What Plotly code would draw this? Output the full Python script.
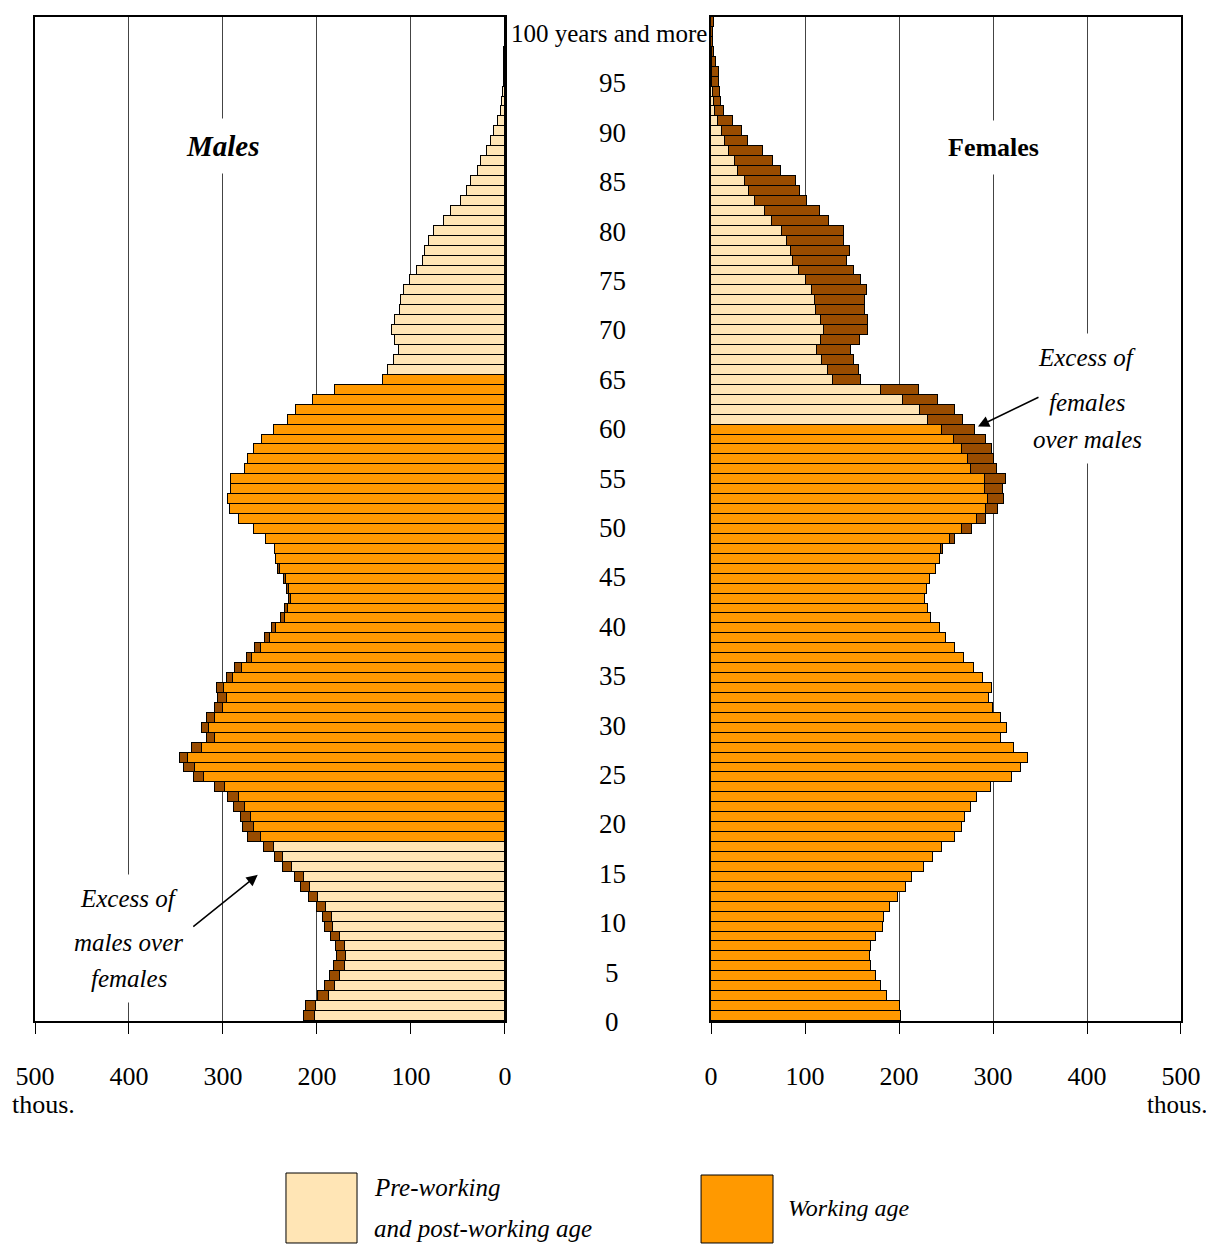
import plotly.graph_objects as go

# ---------------- data (thousands) ----------------
ages = list(range(101))

males = [214, 212, 199, 191, 186, 182, 179, 180, 185, 191,      # 0-9
         194, 200, 208, 217, 223, 236, 245, 256, 273, 279,      # 10-19
         281, 288, 295, 309, 331, 341, 346, 333, 317, 322,      # 20-29
         317, 309, 305, 306, 296, 287, 274, 266, 255, 248,      # 30-39
         238, 234, 230, 232, 235, 241, 244, 245, 254, 267,      # 40-49
         283, 293, 295, 291, 291, 277, 273, 267, 258, 246,      # 50-59
         231, 222, 204, 181, 130, 124, 118.5, 113, 117.5, 120,  # 60-69
         117, 112, 110.5, 107, 101, 94, 87, 85, 81, 76,         # 70-79
         65, 57.5, 47, 40, 36, 28.5, 25, 19, 14.5, 12,          # 80-89
         7.5, 4, 3, 2, 1.5, 1.2, 0.9, 0.6, 0.4, 0.3,            # 90-99
         0.4]                                                   # 100+

females = [202.5, 201.5, 187.5, 180.5, 176, 170.5, 169, 170.5, 176, 183,    # 0-9
           184.5, 190, 198.5, 207, 213.5, 226.5, 236, 245.5, 259.5, 267,    # 10-19
           270, 277, 283, 298, 320, 329.5, 337, 322.5, 309, 314.5,          # 20-29
           309, 300.5, 296, 299, 289.5, 280, 269, 260, 249.5, 244,          # 30-39
           234, 230.5, 228, 229.5, 233.5, 239, 244, 247, 260, 278,          # 40-49
           293, 305.5, 312, 311, 314, 304, 301, 298.5, 293, 281,            # 50-59
           268, 260, 242, 221, 160, 157, 152, 149, 159, 167,                # 60-69
           167, 164, 164, 166, 160, 152, 145, 148, 142, 141,                # 70-79
           125.5, 116, 102.5, 95, 90, 74.5, 66, 55, 39.7, 33,               # 80-89
           23, 13.8, 11, 9.6, 8.2, 8.2, 5.3, 3.3, 2.5, 2,                   # 90-99
           3.5]                                                             # 100+

male_working = (18, 64)
female_working = (0, 59)   # as drawn in the source chart

tick_vals = [0, 100, 200, 300, 400, 500]
tick_text = ["0", "100", "200", "300", "400", "500"]
unit_label = "thous."
age_label_vals = list(range(0, 100, 5))
top_label = "100 years and more"

legend_lines_light = ["Pre-working", "and post-working age"]
legend_lines_orange = ["Working age"]

# ---------------- styling ----------------
LIGHT = "#FFE5B5"
ORANGE = "#FF9900"
DARK = "#994C00"
FONT = "Liberation Serif"

common = [min(m, f) for m, f in zip(males, females)]
male_exc = [(m - f) if m > f else None for m, f in zip(males, females)]
female_exc = [(f - m) if f > m else None for m, f in zip(males, females)]
male_cols = [ORANGE if male_working[0] <= a <= male_working[1] else LIGHT for a in ages]
female_cols = [ORANGE if female_working[0] <= a <= female_working[1] else LIGHT for a in ages]

line = dict(color="black", width=1.5)

fig = go.Figure()
fig.add_trace(go.Bar(y=ages, x=common, orientation="h", xaxis="x", yaxis="y",
                     marker=dict(color=male_cols, line=line), hoverinfo="skip"))
fig.add_trace(go.Bar(y=ages, x=male_exc, orientation="h", xaxis="x", yaxis="y",
                     marker=dict(color=DARK, line=line), hoverinfo="skip"))
fig.add_trace(go.Bar(y=ages, x=common, orientation="h", xaxis="x2", yaxis="y2",
                     marker=dict(color=female_cols, line=line), hoverinfo="skip"))
fig.add_trace(go.Bar(y=ages, x=female_exc, orientation="h", xaxis="x2", yaxis="y2",
                     marker=dict(color=DARK, line=line), hoverinfo="skip"))

xcommon = dict(tickvals=tick_vals, ticktext=tick_text, ticks="outside", ticklen=11,
               tickcolor="black", tickwidth=1.2, showline=True, linecolor="black",
               linewidth=1.5, mirror=True, showgrid=True, gridcolor="#444444",
               gridwidth=1, zeroline=False, ticklabelstandoff=20, automargin=False,
               tickfont=dict(family=FONT, size=26, color="black"))
ycommon = dict(range=[-0.5, 100.5], showticklabels=False, ticks="", showgrid=False,
               zeroline=False, showline=True, linecolor="black", linewidth=1.5,
               mirror=True, automargin=False)

# page body has an 8px default margin, so the figure is 8px smaller than the window
fig.update_layout(
    width=1206, height=1237,
    margin=dict(l=27, r=33, t=9, b=224, autoexpand=False),
    paper_bgcolor="white", plot_bgcolor="white",
    barmode="stack", bargap=0, showlegend=False,
    font=dict(family=FONT, color="black"),
    xaxis=dict(domain=[0, 0.4101], range=[500, 0], anchor="y", **xcommon),
    yaxis=dict(domain=[0, 1], anchor="x", **ycommon),
    xaxis2=dict(domain=[0.5899, 1], range=[0, 500], anchor="y2", **xcommon),
    yaxis2=dict(domain=[0, 1], anchor="x2", **ycommon),
)

ann = []
# unit labels under the 500 ticks
ann.append(dict(xref="x", yref="paper", x=tick_vals[-1], y=-0.0836, xshift=8,
                xanchor="center", yanchor="middle",
                text=unit_label, showarrow=False, font=dict(size=26, family=FONT)))
ann.append(dict(xref="x2", yref="paper", x=tick_vals[-1], y=-0.0836, xshift=-4,
                xanchor="center", yanchor="middle",
                text=unit_label, showarrow=False, font=dict(size=25, family=FONT)))

# centre age labels
for a in age_label_vals:
    ann.append(dict(xref="paper", yref="y", x=0.5035, y=a, yshift=-(6 + 0.06 * a),
                    xanchor="center", yanchor="middle",
                    text=str(a), showarrow=False, font=dict(size=27, family=FONT)))
ann.append(dict(xref="paper", yref="y", x=0.5010, y=100, yshift=-12, text=top_label,
                xanchor="center", yanchor="middle",
                showarrow=False, font=dict(size=25, family=FONT)))

# panel titles
ann.append(dict(xref="x", yref="y", x=300, y=87.5, text="<b><i>Males</i></b>",
                showarrow=False, bgcolor="white", borderpad=11,
                font=dict(size=29, family=FONT)))
ann.append(dict(xref="x2", yref="y2", x=300, y=87.4, text="<b>Females</b>",
                showarrow=False, bgcolor="white", borderpad=12,
                font=dict(size=26, family=FONT)))

# excess notes
for txt, yy in [("Excess of", 11.87), ("males over", 7.44), ("females", 3.82)]:
    ann.append(dict(xref="x", yref="y", x=400, y=yy, text=f"<i>{txt}</i>", showarrow=False,
                    bgcolor="white", borderpad=10, font=dict(size=25, family=FONT)))
for txt, yy in [("Excess of", 66.2), ("females", 61.77), ("over males", 57.95)]:
    ann.append(dict(xref="x2", yref="y2", x=400, y=yy, text=f"<i>{txt}</i>", showarrow=False,
                    bgcolor="white", borderpad=10, font=dict(size=25, family=FONT)))

# arrows
ann.append(dict(xref="x", yref="y", x=263, y=14.2, ax=-66, ay=53, text="", showarrow=True,
                arrowhead=2, arrowsize=1.5, arrowwidth=1.5, arrowcolor="black", standoff=0))
ann.append(dict(xref="x2", yref="y2", x=284, y=59.3, ax=62, ay=-30, text="", showarrow=True,
                arrowhead=2, arrowsize=1.5, arrowwidth=1.5, arrowcolor="black", standoff=0))

# legend text
for txt, yy in zip(legend_lines_light, [-0.1663, -0.2062]):
    ann.append(dict(xref="paper", yref="paper", x=0.2941, y=yy, xanchor="left",
                    yanchor="middle",
                    text=f"<i>{txt}</i>", showarrow=False, font=dict(size=25, family=FONT)))
ann.append(dict(xref="paper", yref="paper", x=0.6553, y=-0.1863, xanchor="left",
                yanchor="middle",
                text=f"<i>{legend_lines_orange[0]}</i>", showarrow=False,
                font=dict(size=24, family=FONT)))

fig.update_layout(annotations=ann)

# legend swatches
fig.add_shape(type="rect", xref="paper", yref="paper", x0=0.2190, x1=0.2810,
              y0=-0.2211, y1=-0.1514, fillcolor=LIGHT, line=dict(color="black", width=1))
fig.add_shape(type="rect", xref="paper", yref="paper", x0=0.5812, x1=0.6440,
              y0=-0.2211, y1=-0.1534, fillcolor=ORANGE, line=dict(color="black", width=1))

fig.write_html("out.html")
